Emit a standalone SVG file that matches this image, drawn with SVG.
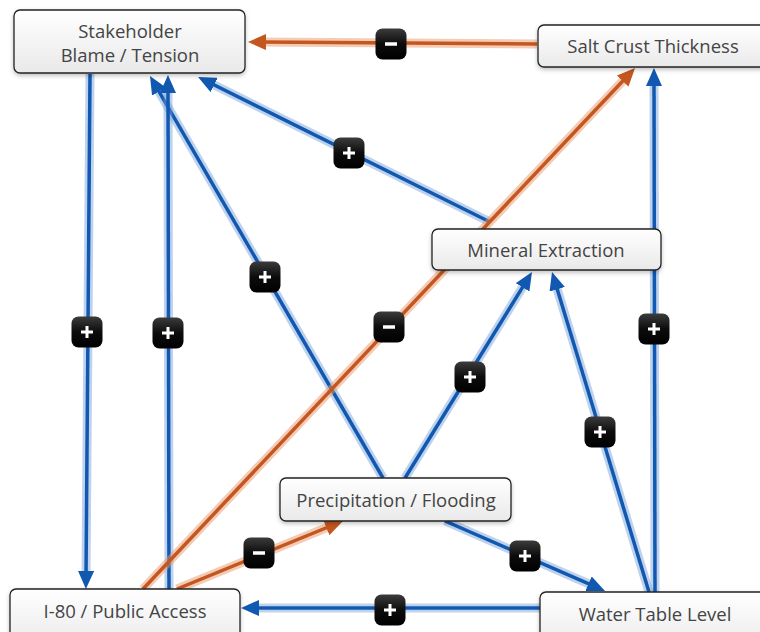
<svg xmlns="http://www.w3.org/2000/svg" width="760" height="632" viewBox="0 0 760 632">
  <defs>
    <linearGradient id="nodeFill" x1="0" y1="0" x2="0" y2="1">
      <stop offset="0" stop-color="#ffffff"/>
      <stop offset="1" stop-color="#e9e9e9"/>
    </linearGradient>
    <linearGradient id="badgeFill" x1="0" y1="0" x2="0" y2="1">
      <stop offset="0" stop-color="#3c3c3c"/>
      <stop offset="0.5" stop-color="#0c0c0c"/>
      <stop offset="1" stop-color="#000000"/>
    </linearGradient>
    <filter id="shadow" x="-10%" y="-20%" width="120%" height="150%">
      <feDropShadow dx="0" dy="2" stdDeviation="2" flood-color="#000" flood-opacity="0.25"/>
    </filter>
    <marker id="arrowBlue" markerUnits="userSpaceOnUse" markerWidth="18" markerHeight="16" refX="6" refY="8" orient="auto">
      <path d="M0,0 L18,8 L0,16 z" fill="#1158b0"/>
    </marker>
    <marker id="arrowOrange" markerUnits="userSpaceOnUse" markerWidth="18" markerHeight="16" refX="6" refY="8" orient="auto">
      <path d="M0,0 L18,8 L0,16 z" fill="#c4561f"/>
    </marker>
    <g id="plus">
      <rect x="-15.5" y="-15.5" width="31" height="31" rx="7" fill="url(#badgeFill)"/>
      <path d="M-6,0 H6 M0,-6 V6" stroke="#fff" stroke-width="3"/>
    </g>
    <g id="minus">
      <rect x="-15.5" y="-15.5" width="31" height="31" rx="7" fill="url(#badgeFill)"/>
      <path d="M-6,0 H6" stroke="#fff" stroke-width="3.5"/>
    </g>
  </defs>
  <style>
    .halo-b { stroke: #6f9bd8; stroke-opacity: 0.45; stroke-width: 9; fill: none; }
    .halo-o { stroke: #e9986a; stroke-opacity: 0.5; stroke-width: 9; fill: none; }
    .line-b { stroke: #1158b0; stroke-width: 3.5; fill: none; marker-end: url(#arrowBlue); }
    .line-o { stroke: #c4561f; stroke-width: 3.5; fill: none; marker-end: url(#arrowOrange); }
    .node rect { fill: url(#nodeFill); stroke: #222; stroke-width: 1.3; filter: url(#shadow); }
    .node text { font-family: "Open Sans", "Noto Sans", "DejaVu Sans", sans-serif; font-size: 18.5px; fill: #444; text-anchor: middle; }
  </style>
  <rect width="760" height="632" fill="#fff"/>

  <!-- connectors: a soft halo stroke under each line, then the line with its arrowhead -->
  <g id="connectors">
    <!-- Salt Crust Thickness to Stakeholder Blame / Tension -->
    <line class="halo-o" x1="537" y1="44" x2="260" y2="42"/>
    <line class="line-o" x1="537" y1="44" x2="260" y2="42"/>
    <!-- Mineral Extraction to Stakeholder Blame / Tension -->
    <line class="halo-b" x1="490" y1="222" x2="208.8" y2="82.3"/>
    <line class="line-b" x1="490" y1="222" x2="208.8" y2="82.3"/>
    <!-- Precipitation / Flooding to Stakeholder Blame / Tension -->
    <line class="halo-b" x1="383" y1="478" x2="156" y2="86.4"/>
    <line class="line-b" x1="383" y1="478" x2="156" y2="86.4"/>
    <!-- I-80 / Public Access to Stakeholder Blame / Tension -->
    <line class="halo-b" x1="169" y1="589" x2="168" y2="87"/>
    <line class="line-b" x1="169" y1="589" x2="168" y2="87"/>
    <!-- Stakeholder Blame / Tension to I-80 / Public Access -->
    <line class="halo-b" x1="90" y1="74" x2="86" y2="577"/>
    <line class="line-b" x1="90" y1="74" x2="86" y2="577"/>
    <!-- I-80 / Public Access to Salt Crust Thickness -->
    <line class="halo-o" x1="143" y1="589" x2="626.8" y2="76.7"/>
    <line class="line-o" x1="143" y1="589" x2="626.8" y2="76.7"/>
    <!-- I-80 / Public Access to Precipitation / Flooding -->
    <line class="halo-o" x1="177" y1="589" x2="331.9" y2="525.5"/>
    <line class="line-o" x1="177" y1="589" x2="331.9" y2="525.5"/>
    <!-- Precipitation / Flooding to Mineral Extraction -->
    <line class="halo-b" x1="405" y1="478" x2="525.7" y2="282.2"/>
    <line class="line-b" x1="405" y1="478" x2="525.7" y2="282.2"/>
    <!-- Water Table Level to Mineral Extraction -->
    <line class="halo-b" x1="649" y1="592" x2="555.5" y2="283.5"/>
    <line class="line-b" x1="649" y1="592" x2="555.5" y2="283.5"/>
    <!-- Water Table Level to Salt Crust Thickness -->
    <line class="halo-b" x1="655" y1="592" x2="654" y2="80"/>
    <line class="line-b" x1="655" y1="592" x2="654" y2="80"/>
    <!-- Precipitation / Flooding to Water Table Level -->
    <line class="halo-b" x1="445" y1="521" x2="594" y2="586.2"/>
    <line class="line-b" x1="445" y1="521" x2="594" y2="586.2"/>
    <!-- Water Table Level to I-80 / Public Access -->
    <line class="halo-b" x1="540" y1="608" x2="253" y2="608"/>
    <line class="line-b" x1="540" y1="608" x2="253" y2="608"/>

    <!-- polarity badges -->
    <use href="#minus" x="391" y="44"/>
    <use href="#plus" x="349" y="153"/>
    <use href="#plus" x="265" y="277"/>
    <use href="#plus" x="87" y="332"/>
    <use href="#plus" x="168" y="333"/>
    <use href="#minus" x="389" y="327"/>
    <use href="#plus" x="470" y="377"/>
    <use href="#plus" x="600" y="432"/>
    <use href="#plus" x="654" y="329"/>
    <use href="#minus" x="259" y="553"/>
    <use href="#plus" x="525" y="556"/>
    <use href="#plus" x="390" y="610"/>
  </g>

  <!-- nodes -->
  <g id="stakeholder" class="node">
    <rect x="14" y="10" width="231" height="63" rx="6"/>
    <text x="130" y="38">Stakeholder</text>
    <text x="130" y="62">Blame / Tension</text>
  </g>
  <g id="salt-crust" class="node">
    <rect x="538" y="25" width="240" height="42" rx="6"/>
    <text x="653" y="53">Salt Crust Thickness</text>
  </g>
  <g id="mineral-extraction" class="node">
    <rect x="432" y="229" width="229" height="41" rx="6"/>
    <text x="546" y="256.5">Mineral Extraction</text>
  </g>
  <g id="precipitation" class="node">
    <rect x="280" y="478" width="231" height="43" rx="6"/>
    <text x="396" y="506.5">Precipitation / Flooding</text>
  </g>
  <g id="i80" class="node">
    <rect x="10" y="589" width="230" height="60" rx="6"/>
    <text x="125" y="617.5">I-80 / Public Access</text>
  </g>
  <g id="water-table" class="node">
    <rect x="540" y="592" width="240" height="60" rx="6"/>
    <text x="655" y="620.5">Water Table Level</text>
  </g>
</svg>
